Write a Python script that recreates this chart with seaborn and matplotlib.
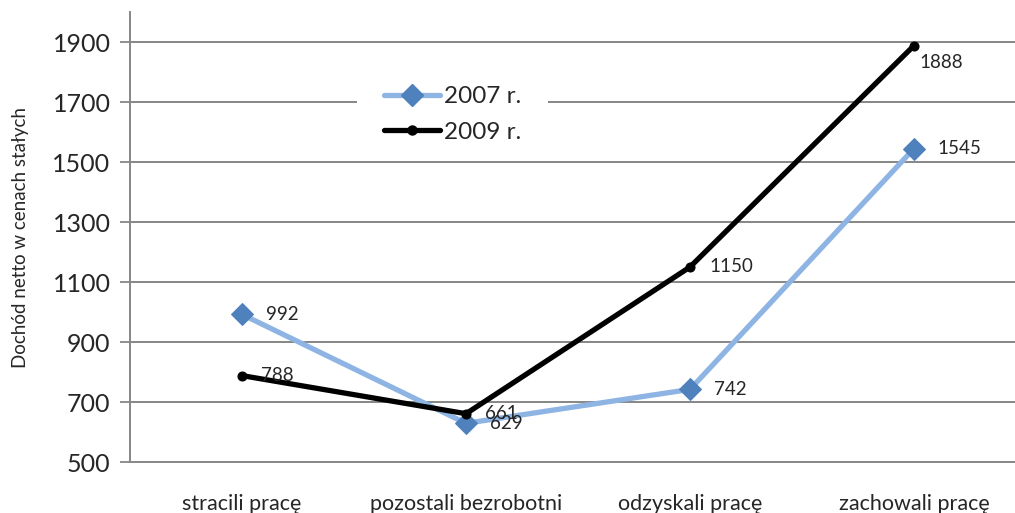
import matplotlib
matplotlib.use("Agg")
import matplotlib.pyplot as plt
from matplotlib.lines import Line2D
from matplotlib.patches import Rectangle
import seaborn as sns
import pandas as pd
import numpy as np

categories = ["stracili pracę", "pozostali bezrobotni", "odzyskali pracę", "zachowali pracę"]
values_2007 = [992, 629, 742, 1545]
values_2009 = [788, 661, 1150, 1888]
series_names = ["2007 r.", "2009 r."]
y_ticks = [500, 700, 900, 1100, 1300, 1500, 1700, 1900]
y_label = "Dochód netto w cenach stałych"

sns.set_theme(style="white")
plt.rcParams['font.family'] = ['Lato', 'DejaVu Sans']

fig = plt.figure(figsize=(10.15, 5.13), dpi=100)
ax = fig.add_axes([130/1015, 1-462/513, 896/1015, 450/513])

x = np.arange(len(categories))
df = pd.DataFrame({"x": np.concatenate([x, x]),
                   "y": values_2007 + values_2009,
                   "series": [series_names[0]]*4 + [series_names[1]]*4})

light_blue = "#8EB4E3"
dark_blue = "#4F81BD"
grid_col = "#868686"

sns.lineplot(data=df[df.series == series_names[0]], x="x", y="y", ax=ax,
             color=light_blue, lw=3.8, marker="D", markersize=11,
             markerfacecolor=dark_blue, markeredgecolor=dark_blue, legend=False, zorder=3)
sns.lineplot(data=df[df.series == series_names[1]], x="x", y="y", ax=ax,
             color="black", lw=3.8, marker="o", markersize=6.5,
             markerfacecolor="black", markeredgecolor="black", legend=False, zorder=4)

ax.set_xlim(-0.5, 3.5)
ax.set_ylim(500, 2000)
ax.set_yticks(y_ticks)
ax.set_yticklabels([str(t) for t in y_ticks], fontsize=18)
ax.set_xticks(x)
ax.set_xticklabels(categories, fontsize=15.5)
ax.set_xticks(np.arange(-0.5, 3.6, 1.0), minor=True)
ax.tick_params(axis="x", which="major", length=0, pad=23)
ax.tick_params(axis="x", which="minor", length=6, width=1.3, color=grid_col, direction="out")
ax.tick_params(axis="y", which="major", length=7, width=1.3, color=grid_col, direction="out", pad=7, left=True)
ax.set_xlabel("")
ax.set_ylabel(y_label, fontsize=13.5, labelpad=17)

for y in y_ticks[1:]:
    ax.axhline(y, color=grid_col, lw=1.4, zorder=1)
for s in ["top", "right"]:
    ax.spines[s].set_visible(False)
for s in ["left", "bottom"]:
    ax.spines[s].set_color(grid_col)
    ax.spines[s].set_linewidth(1.4)

# data labels
for xi, v in zip(x, values_2007):
    ax.annotate(str(v), (xi, v), xytext=(17, 0), textcoords="offset points",
                ha="left", va="center", fontsize=13.5, zorder=5)
for xi, v in zip(x, values_2009):
    if xi == 3:
        ax.annotate(str(v), (xi, v), xytext=(4, -12), textcoords="offset points",
                    ha="left", va="center", fontsize=13.5, zorder=5)
    else:
        ax.annotate(str(v), (xi, v), xytext=(14, 0), textcoords="offset points",
                    ha="left", va="center", fontsize=13.5, zorder=5)

# white legend background box (inside the axes, above gridlines)
ax.add_patch(Rectangle((357/1015, 1-155/513), 191/1015, 80/513,
                       transform=fig.transFigure, facecolor="white",
                       edgecolor="none", zorder=2, clip_on=False))

handles = [Line2D([0], [0], color=light_blue, lw=3.8, marker="D", markersize=11,
                  markerfacecolor=dark_blue, markeredgecolor=dark_blue),
           Line2D([0], [0], color="black", lw=3.8, marker="o", markersize=6.5)]
leg = ax.legend(handles, series_names, loc="upper left",
                bbox_to_anchor=(384/1015, 1-86/513), bbox_transform=fig.transFigure,
                frameon=False, fontsize=17.5, handlelength=2.3, handletextpad=0.15,
                labelspacing=0.6, borderpad=0.0, borderaxespad=0)
leg.set_zorder(6)

fig.savefig("out.png", dpi=100)
